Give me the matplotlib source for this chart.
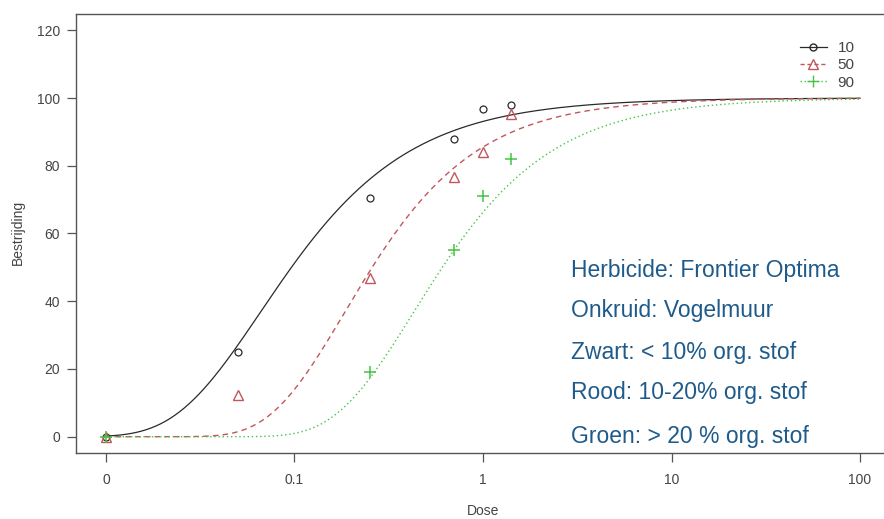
import numpy as np
import matplotlib
matplotlib.use("Agg")
import matplotlib.pyplot as plt
from matplotlib.lines import Line2D

plt.rcParams['font.family'] = ['Liberation Sans', 'DejaVu Sans']

# ---------------- data ----------------
dose = [0, 0.05, 0.25, 0.7, 1.0, 1.4]
resp_10 = [0, 25.0, 70.6, 87.8, 96.7, 97.8]
resp_50 = [0, 12.4, 47.0, 76.6, 84.2, 95.2]
dose_90 = [0, 0.25, 0.7, 1.0, 1.4]
resp_90 = [0, 19.2, 55.0, 71.0, 81.9]

# fitted Weibull (type 1) dose-response parameters per group: slope b, ED e
fit_b = {"10": 0.97, "50": 1.10, "90": 1.05}
fit_e = {"10": 0.066, "50": 0.185, "90": 0.429}
upper_limit = 100.0

legend_labels = ["10", "50", "90"]
x_ticks = [0.01, 0.1, 1, 10, 100]
x_ticklabels = ["0", "0.1", "1", "10", "100"]
y_ticks = [0, 20, 40, 60, 80, 100, 120]

notes = ["Herbicide: Frontier Optima",
         "Onkruid: Vogelmuur",
         "Zwart: < 10% org. stof",
         "Rood: 10-20% org. stof",
         "Groen: > 20 % org. stof"]

zero_dose_pos = 0.01  # broken-axis position used for dose 0

# ---------------- figure ----------------
W, H = 884, 519
fig = plt.figure(figsize=(W / 100, H / 100), dpi=100)
left_px, right_px, top_px, bot_px = 76, 890, 14, 453
ax = fig.add_axes([left_px / W, 1 - bot_px / H, (right_px - left_px) / W, (bot_px - top_px) / H])
ax.set_xscale('log')
ax.set_xlim(10 ** -2.159, 10 ** 2.159)
ax.set_ylim(-4.8, 124.8)

def shown(d):
    return [zero_dose_pos if v == 0 else v for v in d]

def weibull1(x, b, e):
    return upper_limit * np.exp(-np.exp(-b * (np.log(x) - np.log(e))))

xx = np.logspace(-2, 2, 600)
c_black = '#2a2a2a'
c_red = '#c0575c'
c_green = '#44c444'

ax.plot(xx, weibull1(xx, fit_b["10"], fit_e["10"]), color=c_black, lw=0.9, ls='-')
ax.plot(xx, weibull1(xx, fit_b["50"], fit_e["50"]), color=c_red, lw=1.0, ls=(0, (4, 3)))
ax.plot(xx, weibull1(xx, fit_b["90"], fit_e["90"]), color=c_green, lw=1.0, ls=(0, (1, 2)))

ax.plot(shown(dose), resp_10, ls='none', marker='o', ms=5, mfc='none', mec=c_black, mew=0.9)
ax.plot(shown(dose), resp_50, ls='none', marker='^', ms=7, mfc='none', mec=c_red, mew=1.0)
ax.plot(shown(dose_90), resp_90, ls='none', marker='+', ms=9, mec=c_green, mew=1.1)

# axes styling
frame_col = '#555555'
for s in ax.spines.values():
    s.set_color(frame_col)
    s.set_linewidth(1.0)
ax.set_xticks(x_ticks)
ax.set_xticklabels(x_ticklabels)
ax.xaxis.set_minor_locator(matplotlib.ticker.NullLocator())
ax.set_yticks(y_ticks)
ax.tick_params(axis='both', colors=frame_col, labelcolor='#444444', labelsize=10,
               length=6.5, width=0.9, direction='out')
ax.tick_params(axis='x', pad=8)
ax.tick_params(axis='y', pad=5)

fig.text(18 / W, 1 - 232 / H, "Bestrijding", rotation=90, ha='center', va='center',
         fontsize=10, color='#444444')
fig.text(483 / W, 1 - 511 / H, "Dose", ha='center', va='center', fontsize=10, color='#444444')

# legend
handles = [
    Line2D([], [], color=c_black, lw=0.9, marker='o', ms=5, mfc='none', mec=c_black),
    Line2D([], [], color=c_red, lw=1.0, ls=(0, (3, 2)), marker='^', ms=7, mfc='none', mec=c_red),
    Line2D([], [], color=c_green, lw=1.0, ls=(0, (1, 2)), marker='+', ms=9, mec=c_green),
]
leg = fig.legend(handles, legend_labels, loc='upper left',
                 bbox_to_anchor=(800 / W, 1 - 41 / H), bbox_transform=fig.transFigure,
                 frameon=False, fontsize=11, handlelength=1.75, handletextpad=0.7,
                 labelspacing=0.22, borderpad=0, borderaxespad=0, numpoints=1)
for t in leg.get_texts():
    t.set_color('#444444')

# annotation text
note_y = [270, 310, 353, 393, 436]
for txt, yp in zip(notes, note_y):
    fig.text(571 / W, 1 - yp / H, txt, ha='left', va='center', fontsize=16.5, color='#1f5b8a')

fig.savefig("out.png", dpi=100)
